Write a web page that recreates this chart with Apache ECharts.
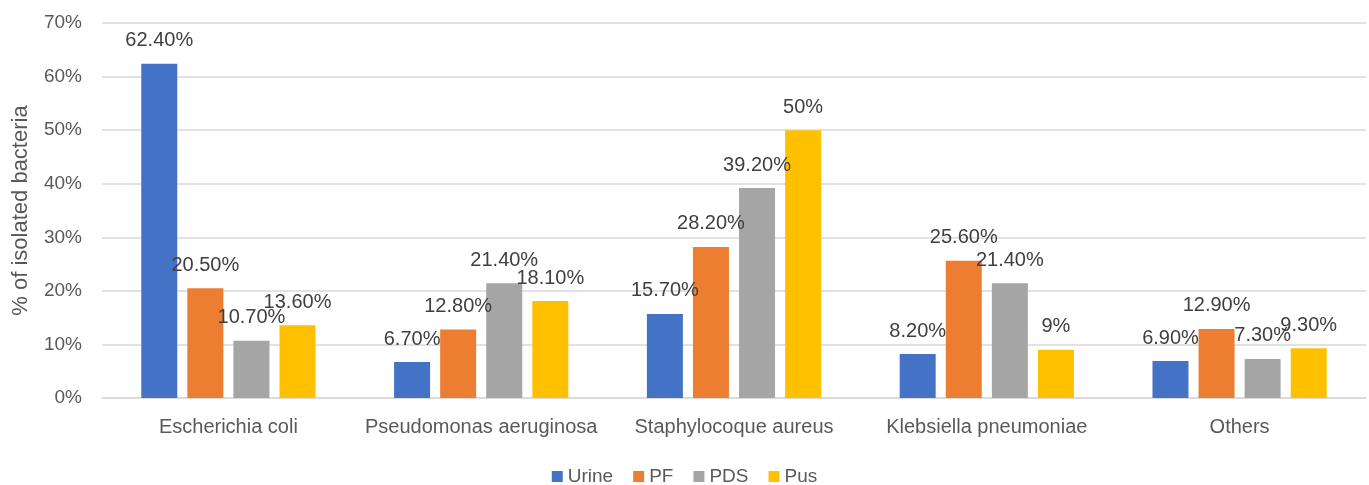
<!DOCTYPE html>
<html>
<head>
<meta charset="utf-8">
<script src="https://cdn.jsdelivr.net/npm/echarts@6/dist/echarts.min.js"></script>
<style>html,body{margin:0;padding:0;background:#fff;}#c{width:1369px;height:485px;}</style>
</head>
<body>
<div id="c"></div>
<script>
const categories = ["Escherichia coli", "Pseudomonas aeruginosa", "Staphylocoque aureus", "Klebsiella pneumoniae", "Others"];
const urine = [62.4, 6.7, 15.7, 8.2, 6.9];
const pf = [20.5, 12.8, 28.2, 25.6, 12.9];
const pds = [10.7, 21.4, 39.2, 21.4, 7.3];
const pus = [13.6, 18.1, 50, 9, 9.3];
const seriesNames = ["Urine", "PF", "PDS", "Pus"];
const colors = ["#4472C4", "#ED7D31", "#A5A5A5", "#FFC000"];

const font = "Liberation Sans";
const fmt = v => (Number.isInteger(v) ? v : v.toFixed(2)) + "%";
const chart = echarts.init(document.getElementById('c'));
const data = [urine, pf, pds, pus];
chart.setOption({
  animation: false,
  textStyle: { fontFamily: font },
  grid: { left: 102, right: 3, top: 23, bottom: 87 },
  legend: {
    top: 462, left: 'center',
    itemWidth: 11, itemHeight: 11, itemGap: 20,
    icon: 'rect',
    textStyle: { fontFamily: font, fontSize: 19, color: '#595959' },
    data: seriesNames
  },
  xAxis: {
    type: 'category', data: categories,
    axisTick: { show: false },
    axisLine: { lineStyle: { color: '#D9D9D9', width: 1.5 } },
    axisLabel: { interval: 0, fontFamily: font, fontSize: 20, color: '#595959', margin: 19 }
  },
  yAxis: {
    type: 'value', min: 0, max: 70, interval: 10,
    name: '% of isolated bacteria', nameLocation: 'middle', nameGap: 70,
    nameTextStyle: { fontFamily: font, fontSize: 22, color: '#595959' },
    axisLabel: { formatter: '{value}%', fontFamily: font, fontSize: 19, color: '#595959', margin: 20 },
    axisLine: { show: false }, axisTick: { show: false },
    splitLine: { lineStyle: { color: '#D9D9D9', width: 1.5 } }
  },
  series: seriesNames.map((n, i) => ({
    name: n, type: 'bar', data: data[i],
    barWidth: 36, barGap: '28%',
    itemStyle: { color: colors[i] },
    label: {
      show: true, position: 'top', distance: 13,
      formatter: p => fmt(p.value),
      fontFamily: font, fontSize: 20, color: '#404040'
    }
  }))
});
</script>
</body>
</html>
